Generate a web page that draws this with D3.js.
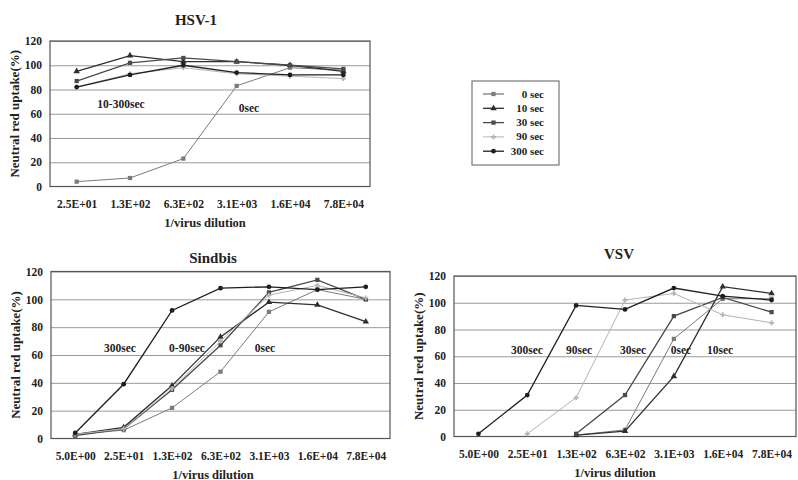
<!DOCTYPE html>
<html>
<head>
<meta charset="utf-8">
<script src="https://cdn.jsdelivr.net/npm/d3@7"></script>
<style>
  html, body { margin: 0; padding: 0; background: #fff; }
  svg { display: block; }
  svg text { font-family: "Liberation Serif", "DejaVu Serif", "Times New Roman", serif !important; font-weight: bold; }
</style>
</head>
<body>
<svg id="chart" width="798" height="480"></svg>
<script>
// Exposure times (series) shared by all three panels
const seriesNames = ["0 sec", "10 sec", "30 sec", "90 sec", "300 sec"];
const seriesColors = ["#7a7a7a", "#2e2e2e", "#4a4a4a", "#b4b4b4", "#1e1e1e"];
const seriesSymbols = [d3.symbolSquare, d3.symbolTriangle, d3.symbolSquare, d3.symbolCross, d3.symbolCircle];

const yTicks = [0, 20, 40, 60, 80, 100, 120];

// HSV-1
const hsvCategories = ["2.5E+01", "1.3E+02", "6.3E+02", "3.1E+03", "1.6E+04", "7.8E+04"];
const hsv0 = [4, 7, 23, 83, 98, 96];
const hsv10 = [95, 108, 103, 103, 100, 95];
const hsv30 = [87, 102, 106, 103, 100, 97];
const hsv90 = [82, 93, 98, 93, 91, 89];
const hsv300 = [82, 92, 100, 94, 92, 92];

// Sindbis
const sinCategories = ["5.0E+00", "2.5E+01", "1.3E+02", "6.3E+02", "3.1E+03", "1.6E+04", "7.8E+04"];
const sin0 = [3, 6, 22, 48, 91, 107, 100];
const sin10 = [3, 8, 38, 73, 98, 96, 84];
const sin30 = [2, 7, 35, 67, 105, 114, 100];
const sin90 = [3, 7, 36, 70, 103, 110, 101];
const sin300 = [4, 39, 92, 108, 109, 107, 109];

// VSV (null = not measured)
const vsvCategories = ["5.0E+00", "2.5E+01", "1.3E+02", "6.3E+02", "3.1E+03", "1.6E+04", "7.8E+04"];
const vsv0 = [null, null, 1, 5, 73, 103, 103];
const vsv10 = [null, null, 1, 4, 45, 112, 107];
const vsv30 = [null, null, 2, 31, 90, 104, 93];
const vsv90 = [null, 2, 29, 102, 107, 91, 85];
const vsv300 = [2, 31, 98, 95, 111, 105, 102];

const svg = d3.select("#chart");
const FONT = "Liberation Serif, DejaVu Serif, serif";

function panel(opts) {
  const { title, categories, series, left, right, top, bottom, titleX, titleY, xLabelX, labels } = opts;
  const g = svg.append("g");
  const x = d3.scalePoint().domain(categories).range([left, right]).padding(0.5);
  const y = d3.scaleLinear().domain([0, 120]).range([bottom, top]);

  // horizontal grid
  g.append("g")
    .attr("transform", `translate(${left},0)`)
    .call(d3.axisLeft(y).tickValues(yTicks.slice(1)).tickSize(-(right - left)).tickFormat(""))
    .call(s => s.select(".domain").remove())
    .call(s => s.selectAll("line").attr("stroke", "#9a9a9a").attr("stroke-width", 1));

  // frame
  g.append("rect")
    .attr("x", left).attr("y", top)
    .attr("width", right - left).attr("height", bottom - top)
    .attr("fill", "none").attr("stroke", "#555").attr("stroke-width", 1.2);

  // y tick labels
  g.append("g")
    .attr("transform", `translate(${left},0)`)
    .call(d3.axisLeft(y).tickValues(yTicks).tickSize(0).tickPadding(8))
    .attr("font-family", FONT)
    .call(s => s.select(".domain").remove())
    .call(s => s.selectAll("text").attr("font-size", 11.5).attr("font-weight", "bold").attr("fill", "#222"));

  // x tick labels
  g.append("g")
    .attr("transform", `translate(0,${bottom})`)
    .call(d3.axisBottom(x).tickSize(0).tickPadding(13))
    .attr("font-family", FONT)
    .call(s => s.select(".domain").remove())
    .call(s => s.selectAll("text").attr("font-size", 11.5).attr("font-weight", "bold").attr("fill", "#222"));

  g.append("text").attr("x", titleX).attr("y", titleY)
    .attr("text-anchor", "middle").attr("font-size", 15).attr("fill", "#222").text(title);
  g.append("text").attr("x", xLabelX).attr("y", bottom + 40)
    .attr("text-anchor", "middle").attr("font-size", 12.5).attr("fill", "#222").text("1/virus dilution");
  g.append("text")
    .attr("transform", `translate(${left - 31},${(top + bottom) / 2}) rotate(-90)`)
    .attr("text-anchor", "middle").attr("font-size", 13).attr("fill", "#222").text("Neutral red uptake(%)");

  const line = d3.line()
    .defined(d => d.v !== null)
    .x(d => x(d.c)).y(d => y(d.v));

  series.forEach((vals, i) => {
    const pts = categories.map((c, j) => ({ c, v: vals[j] }));
    g.append("path").datum(pts)
      .attr("d", line).attr("fill", "none")
      .attr("stroke", seriesColors[i]).attr("stroke-width", i === 3 || i === 0 ? 1 : 1.3);
    g.selectAll(null).data(pts.filter(d => d.v !== null)).enter()
      .append("path")
      .attr("transform", d => `translate(${x(d.c)},${y(d.v)})`)
      .attr("d", d3.symbol().type(seriesSymbols[i]).size(i === 3 ? 14 : 18))
      .attr("fill", seriesColors[i]);
  });

  labels.forEach(l => {
    g.append("text").attr("x", l.x).attr("y", l.y)
      .attr("text-anchor", "middle").attr("font-size", 11.5).attr("fill", "#222").text(l.t);
  });
}

panel({
  title: "HSV-1", categories: hsvCategories,
  series: [hsv0, hsv10, hsv30, hsv90, hsv300],
  left: 50, right: 370, top: 41, bottom: 186.5, titleX: 196, titleY: 25, xLabelX: 205,
  labels: [{ t: "10-300sec", x: 121, y: 108 }, { t: "0sec", x: 249, y: 112 }]
});

panel({
  title: "Sindbis", categories: sinCategories,
  series: [sin0, sin10, sin30, sin90, sin300],
  left: 51, right: 390, top: 271.5, bottom: 438.5, titleX: 213, titleY: 263, xLabelX: 213,
  labels: [{ t: "300sec", x: 120, y: 352 }, { t: "0-90sec", x: 187, y: 352 }, { t: "0sec", x: 265, y: 352 }]
});

panel({
  title: "VSV", categories: vsvCategories,
  series: [vsv0, vsv10, vsv30, vsv90, vsv300],
  left: 454, right: 796, top: 276, bottom: 436.5, titleX: 619, titleY: 259, xLabelX: 615,
  labels: [{ t: "300sec", x: 527, y: 354 }, { t: "90sec", x: 579, y: 354 }, { t: "30sec", x: 633, y: 354 },
           { t: "0sec", x: 681, y: 354 }, { t: "10sec", x: 720, y: 354 }]
});

// legend
const lg = svg.append("g");
lg.append("rect").attr("x", 472).attr("y", 81).attr("width", 87).attr("height", 84)
  .attr("fill", "#fff").attr("stroke", "#777").attr("stroke-width", 1.2);
seriesNames.forEach((name, i) => {
  const yy = 94 + i * 14.3;
  lg.append("line").attr("x1", 483).attr("x2", 504).attr("y1", yy).attr("y2", yy)
    .attr("stroke", seriesColors[i]).attr("stroke-width", i === 3 ? 1 : 1.3);
  lg.append("path").attr("transform", `translate(493.5,${yy})`)
    .attr("d", d3.symbol().type(seriesSymbols[i]).size(i === 3 ? 14 : 18))
    .attr("fill", seriesColors[i]);
  lg.append("text").attr("x", 544).attr("y", yy + 3.5).attr("text-anchor", "end")
    .attr("font-size", 11).attr("fill", "#222").text(name);
});
</script>
</body>
</html>
